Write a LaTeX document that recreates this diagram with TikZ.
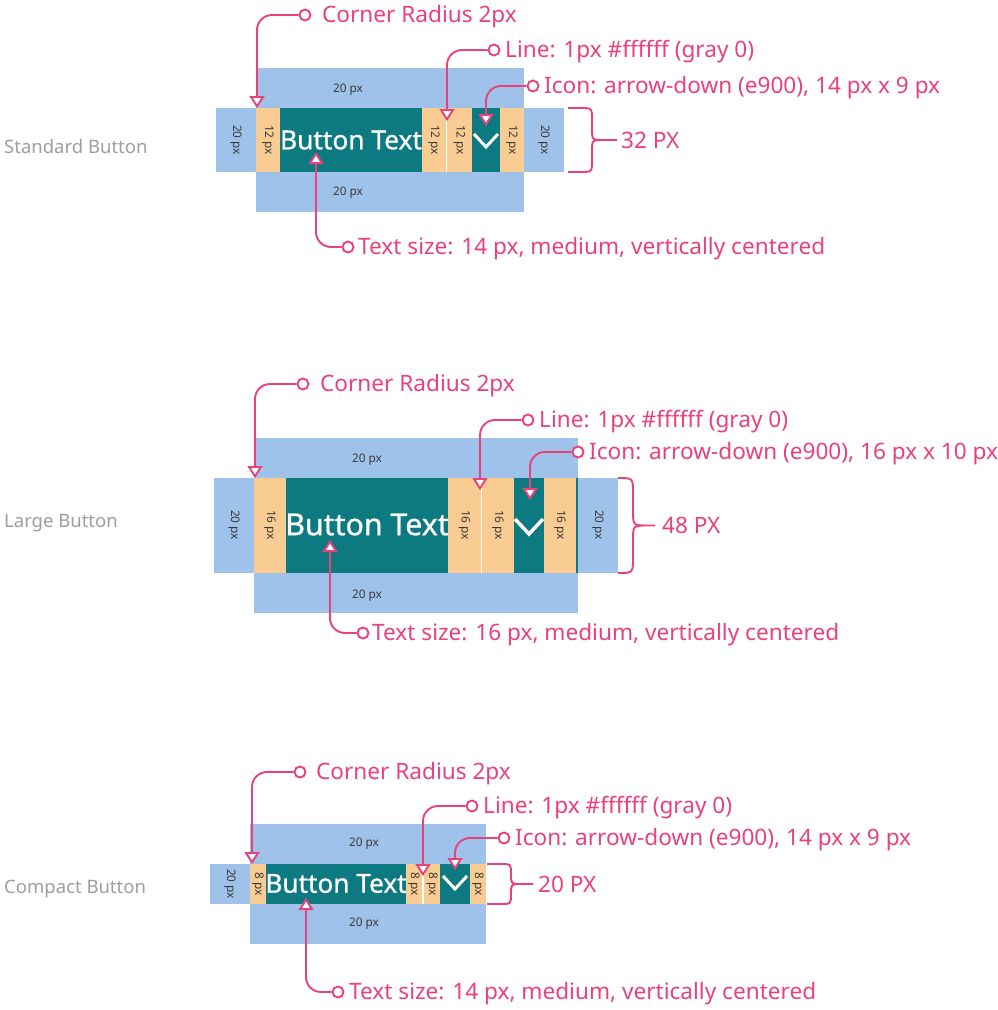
\documentclass[tikz,border=0pt]{standalone}
\usepackage{fontspec}
\setmainfont{Noto Sans}
\newfontfamily\medfont{Noto Sans}[FakeBold=0.9]
\usetikzlibrary{arrows.meta}
\definecolor{pk}{HTML}{E9417A}
\definecolor{bl}{HTML}{9EC2EA}
\definecolor{orr}{HTML}{F8CC92}
\definecolor{tl}{HTML}{0C7A80}
\definecolor{dk}{HTML}{3A3A3A}
\definecolor{gy}{HTML}{9E9E9E}
\newcommand\mybrace[6]{%
  \pgfmathsetmacro\bym{(#2+#3)/2}%
  \draw[bracestyle] (#1,#2) -- ({#4-#6},#2) .. controls (#4,#2) .. (#4,{#2+#6}) -- (#4,{\bym-#6}) .. controls (#4,\bym) .. ({#4+#6},\bym) -- (#5,\bym)
    ({#4+#6},\bym) .. controls (#4,\bym) .. (#4,{\bym+#6}) -- (#4,{#3-#6}) .. controls (#4,#3) .. ({#4-#6},#3) -- (#1,#3);}
\begin{document}
\begin{tikzpicture}[x=1pt,y=-1pt,
  dot/.style={circle,draw=pk,fill=white,line width=1.9pt,minimum size=11pt,inner sep=0pt},
  ctext/.style={anchor=base west,inner sep=0pt,text=pk,font=\fontsize{22.6}{25}\selectfont},
  callout/.style={draw=pk,line width=1.9pt,rounded corners=15pt,-{Triangle[width=15pt,length=12pt,fill=white]}},
  bracestyle/.style={draw=pk,line width=1.9pt,line join=round},
  sect/.style={anchor=base west,inner sep=0pt,text=gy,font=\fontsize{18.5}{21}\selectfont},
  small/.style={inner sep=0pt,text=dk,font=\fontsize{11.8}{13}\selectfont},
  vsmall/.style={small,rotate=-90},
  btext/.style={inner sep=0pt,text=white},
  chev/.style={draw=white,line width=3pt}
]
\useasboundingbox (0,0) rectangle (998,1010);

% ================= Standard =================
\fill[bl] (256,68) rectangle (524,108);
\fill[bl] (216,108) rectangle (564,172);
\fill[bl] (256,172) rectangle (524,212);
\fill[orr] (256,108) rectangle (280,172);
\fill[tl] (280,108) rectangle (422,172);
\fill[orr] (422,108) rectangle (472,172);
\fill[tl] (472,108) rectangle (500,172);
\fill[orr] (500,108) rectangle (524,172);
\draw[white,line width=1.3pt] (446.8,108) -- (446.8,172);
\draw[chev] (474,134) -- (486,147) -- (498,134);
\node[btext,font=\medfont\fontsize{26.3}{28}\selectfont] (sbt) at (351,140) {Button Text};
\node[small] (sl1) at (348,90) {20 px};
\node[small] (sl2) at (348,193) {20 px};
\node[vsmall] (sl3) at (236,140) {20 px};
\node[vsmall] (sl4) at (544,140) {20 px};
\node[vsmall] (sl5) at (268,140) {12 px};
\node[vsmall] (sl6) at (434,140) {12 px};
\node[vsmall] (sl7) at (459.5,140) {12 px};
\node[vsmall] (sl8) at (512,140) {12 px};
\node[sect] (sname) at (4,153) {Standard Button};

\node[dot] (sc1) at (305,15) {};
\node[ctext] (sct1) at (322,22) {Corner Radius 2px};
\coordinate (st1) at (257,108);
\draw[callout] (sc1.west) -| (st1);
\node[dot] (sc2) at (494,50) {};
\node[ctext] (sct2) at (505,57) {Line: 1px \#ffffff (gray 0)};
\coordinate (st2) at (447,121);
\draw[callout] (sc2.west) -| (st2);
\node[dot] (sc3) at (533,86) {};
\node[ctext] (sct3) at (544,93) {Icon: arrow-down (e900), 14 px x 9 px};
\coordinate (st3) at (486,126);
\draw[callout] (sc3.west) -| (st3);
\node[dot] (sc4) at (348,247) {};
\node[ctext] (sct4) at (358,254) {Text size: 14 px, medium, vertically centered};
\coordinate (st4) at (316,152);
\draw[callout] (sc4.west) -| (st4);
\mybrace{568}{108}{172}{592}{617}{12}
\node[ctext] (sbr) at (621,148) {32 PX};

% ================= Large =================
\fill[bl] (254,438) rectangle (578,478);
\fill[bl] (214,478) rectangle (618,573);
\fill[bl] (254,573) rectangle (578,613);
\fill[orr] (254,478) rectangle (286,573);
\fill[tl] (286,478) rectangle (448,573);
\fill[orr] (448,478) rectangle (514,573);
\fill[tl] (514,478) rectangle (544,573);
\fill[orr] (544,478) rectangle (576,573);
\fill[tl] (576,478) rectangle (578,573);
\draw[white,line width=1.3pt] (481.5,478) -- (481.5,573);
\draw[chev,line width=3.5pt] (515,519) -- (529,534) -- (543,519);
\node[btext,font=\medfont\fontsize{30.3}{32}\selectfont] (lbt) at (367,524.5) {Button Text};
\node[small] (ll1) at (367,460) {20 px};
\node[small] (ll2) at (367,596) {20 px};
\node[vsmall] (ll3) at (234,525) {20 px};
\node[vsmall] (ll4) at (598,525) {20 px};
\node[vsmall] (ll5) at (270,525) {16 px};
\node[vsmall] (ll6) at (464.5,525) {16 px};
\node[vsmall] (ll7) at (498,525) {16 px};
\node[vsmall] (ll8) at (560,525) {16 px};
\node[sect] (lname) at (4,527) {Large Button};

\node[dot] (lc1) at (303,384) {};
\node[ctext] (lct1) at (320,391) {Corner Radius 2px};
\coordinate (lt1) at (255,478);
\draw[callout] (lc1.west) -| (lt1);
\node[dot] (lc2) at (528,420) {};
\node[ctext] (lct2) at (539,427) {Line: 1px \#ffffff (gray 0)};
\coordinate (lt2) at (480,490);
\draw[callout] (lc2.west) -| (lt2);
\node[dot] (lc3) at (578,452) {};
\node[ctext] (lct3) at (589,459) {Icon: arrow-down (e900), 16 px x 10 px};
\coordinate (lt3) at (530,500);
\draw[callout] (lc3.west) -| (lt3);
\node[dot] (lc4) at (363,633) {};
\node[ctext] (lct4) at (372,640) {Text size: 16 px, medium, vertically centered};
\coordinate (lt4) at (330,540);
\draw[callout] (lc4.west) -| (lt4);
\mybrace{618}{478}{573}{633}{655}{15}
\node[ctext] (lbr) at (662,533) {48 PX};

% ================= Compact =================
\fill[bl] (250,824) rectangle (486,864);
\fill[bl] (210,864) rectangle (250,904);
\fill[bl] (250,904) rectangle (486,944);
\fill[orr] (250,864) rectangle (266,904);
\fill[tl] (266,864) rectangle (406,904);
\fill[orr] (406,864) rectangle (440,904);
\fill[tl] (440,864) rectangle (470,904);
\fill[orr] (470,864) rectangle (486,904);
\draw[white,line width=2pt] (423,864) -- (423,904);
\draw[chev] (443,876) -- (455,889) -- (467,876);
\begin{scope}
\clip (266,864) rectangle (406,904);
\node[btext,font=\medfont\fontsize{26.2}{28}\selectfont] (cbt) at (336,883.5) {Button Text};
\end{scope}
\node[small] (cl1) at (364,844) {20 px};
\node[small] (cl2) at (364,924) {20 px};
\node[vsmall] (cl3) at (230,884) {20 px};
\node[vsmall] (cl5) at (258,884) {8 px};
\node[vsmall] (cl6) at (414,884) {8 px};
\node[vsmall] (cl7) at (432,884) {8 px};
\node[vsmall] (cl8) at (478,884) {8 px};
\node[sect] (cname) at (4,893) {Compact Button};

\node[dot] (cc1) at (300,772) {};
\node[ctext] (cct1) at (316,779) {Corner Radius 2px};
\coordinate (ct1) at (252,864);
\draw[callout] (cc1.west) -| (ct1);
\node[dot] (cc2) at (472,806) {};
\node[ctext] (cct2) at (483,813) {Line: 1px \#ffffff (gray 0)};
\coordinate (ct2) at (423,876);
\draw[callout] (cc2.west) -| (ct2);
\node[dot] (cc3) at (504,838) {};
\node[ctext] (cct3) at (515,845) {Icon: arrow-down (e900), 14 px x 9 px};
\coordinate (ct3) at (455,870);
\draw[callout] (cc3.west) -| (ct3);
\node[dot] (cc4) at (338,992) {};
\node[ctext] (cct4) at (349,999) {Text size: 14 px, medium, vertically centered};
\coordinate (ct4) at (306,898);
\draw[callout] (cc4.west) -| (ct4);
\mybrace{487}{864}{904}{511}{533}{10}
\node[ctext] (cbr) at (538,892) {20 PX};
\end{tikzpicture}
\end{document}
